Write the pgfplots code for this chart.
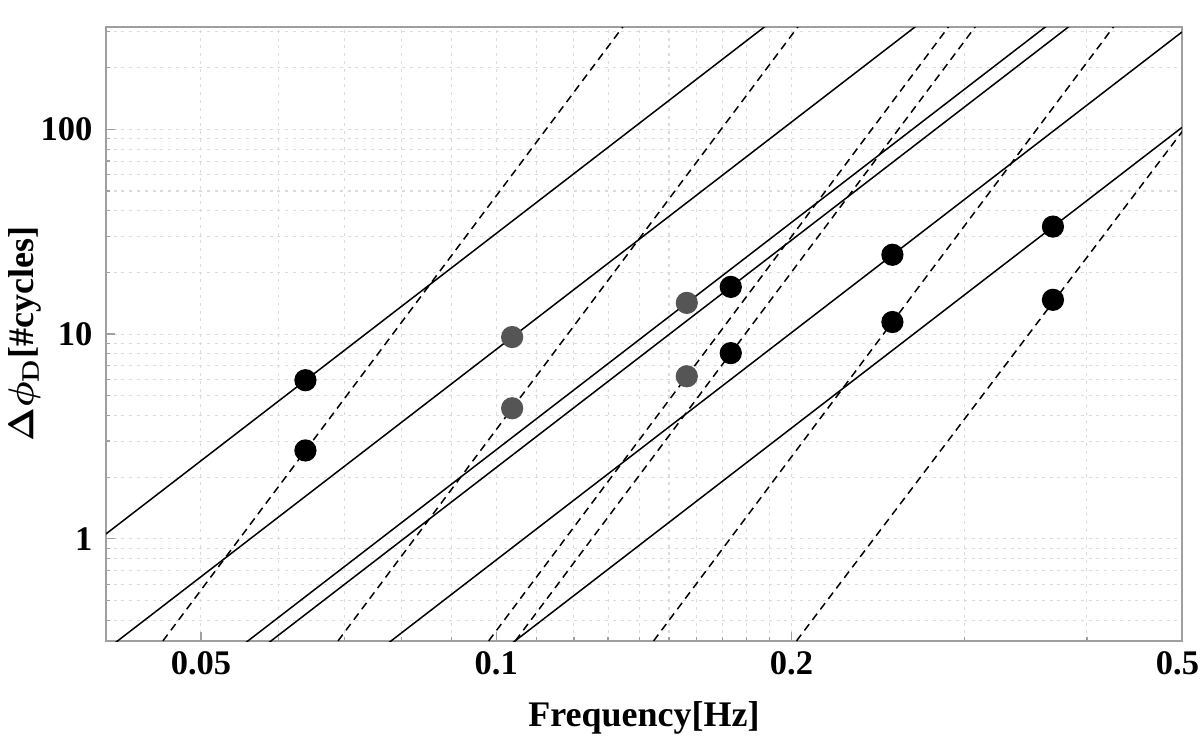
\documentclass[border=0pt]{standalone}
\usepackage{pgfplots}
\pgfplotsset{compat=1.18}
\usepackage{fontspec}
\setmainfont{Liberation Serif}
\begin{document}
\begin{tikzpicture}
\begin{axis}[
 at={(0,0)}, anchor=south west,
 xmode=log, ymode=log,
 scale only axis, width=358.7pt, height=204.7pt,
 xmin=0.04, xmax=0.5, ymin=0.316228, ymax=316.228,
 axis line style={gray!75, line width=0.5pt},
 xtick={0.05,0.1,0.2,0.5}, xticklabels={0.05,0.1,0.2,\hspace*{-3pt}0.5},
 minor xtick={0.06,0.07,0.08,0.09,0.11,0.12,0.13,0.14,0.15,0.16,0.17,0.18,0.19,0.3,0.4},
 ytick={1,10,100}, yticklabels={1,10,100},
 minor ytick={0.4,0.5,0.6,0.7,0.8,0.9,2,3,4,5,6,7,8,9,20,30,40,50,60,70,80,90,200,300},
 grid=both,
 major grid style={gray!28, dash pattern=on 1pt off 1.6pt, line width=0.35pt},
 minor grid style={gray!28, dash pattern=on 1pt off 1.6pt, line width=0.35pt},
 tick style={gray!75, line width=0.4pt},
 major tick length=3pt, minor tick length=1.5pt,
 tick align=inside,
 xtick pos=bottom, ytick pos=left,
 ticklabel style={font=\fontsize{11.5}{13}\selectfont\bfseries},
 yticklabel style={xshift=-1pt},
 xlabel={\textbf{Frequency[Hz]}},
 ylabel={{\boldmath$\Delta\phi_{\mathbf{D}}$}\textbf{[\#cycles]}},
 label style={font=\fontsize{12}{14}\selectfont\bfseries},
 xlabel style={at={(axis description cs:0.5,-0.1255)}, anchor=center},
 ylabel style={at={(axis description cs:-0.0753,0.5)}, anchor=center},
 clip=true,
]
% solid lines
\addplot[black, line width=0.5pt] coordinates {(0.04,1.055) (0.5,11770)};
\addplot[black, line width=0.5pt] coordinates {(0.04,0.2863) (0.5,3194)};
\addplot[black, line width=0.5pt] coordinates {(0.04,0.0926) (0.5,1033)};
\addplot[black, line width=0.5pt] coordinates {(0.04,0.0758) (0.5,846)};
\addplot[black, line width=0.5pt] coordinates {(0.04,0.0268) (0.5,299)};
\addplot[black, line width=0.5pt] coordinates {(0.04,0.00916) (0.5,102.2)};
% dashed lines
\addplot[black, line width=0.5pt, dash pattern=on 2.6pt off 1.8pt] coordinates {(0.04407,0.25) (0.1396,400)};
\addplot[black, line width=0.5pt, dash pattern=on 2.6pt off 1.8pt] coordinates {(0.06647,0.25) (0.2105,400)};
\addplot[black, line width=0.5pt, dash pattern=on 2.6pt off 1.8pt] coordinates {(0.09466,0.25) (0.2998,400)};
\addplot[black, line width=0.5pt, dash pattern=on 2.6pt off 1.8pt] coordinates {(0.10077,0.25) (0.3192,400)};
\addplot[black, line width=0.5pt, dash pattern=on 2.6pt off 1.8pt] coordinates {(0.1394,0.25) (0.4416,400)};
\addplot[black, line width=0.5pt, dash pattern=on 2.6pt off 1.8pt] coordinates {(0.1949,0.25) (0.6252,400)};
% points
\addplot[only marks, mark=*, mark size=3.5pt, black] coordinates {
 (0.0639,5.95) (0.0639,2.70) (0.1734,17.0) (0.1734,8.07)
 (0.2534,24.4) (0.2534,11.45) (0.3694,33.5) (0.3694,14.7)};
\addplot[only marks, mark=*, mark size=3.5pt, color={rgb,255:red,85;green,85;blue,85}] coordinates {
 (0.1038,9.67) (0.1038,4.34) (0.1564,14.2) (0.1564,6.22)};
\end{axis}
\pgfresetboundingbox
\path[use as bounding box] (-35.3pt,-36.3pt) rectangle (364.7pt,213.7pt);
\end{tikzpicture}
\end{document}
